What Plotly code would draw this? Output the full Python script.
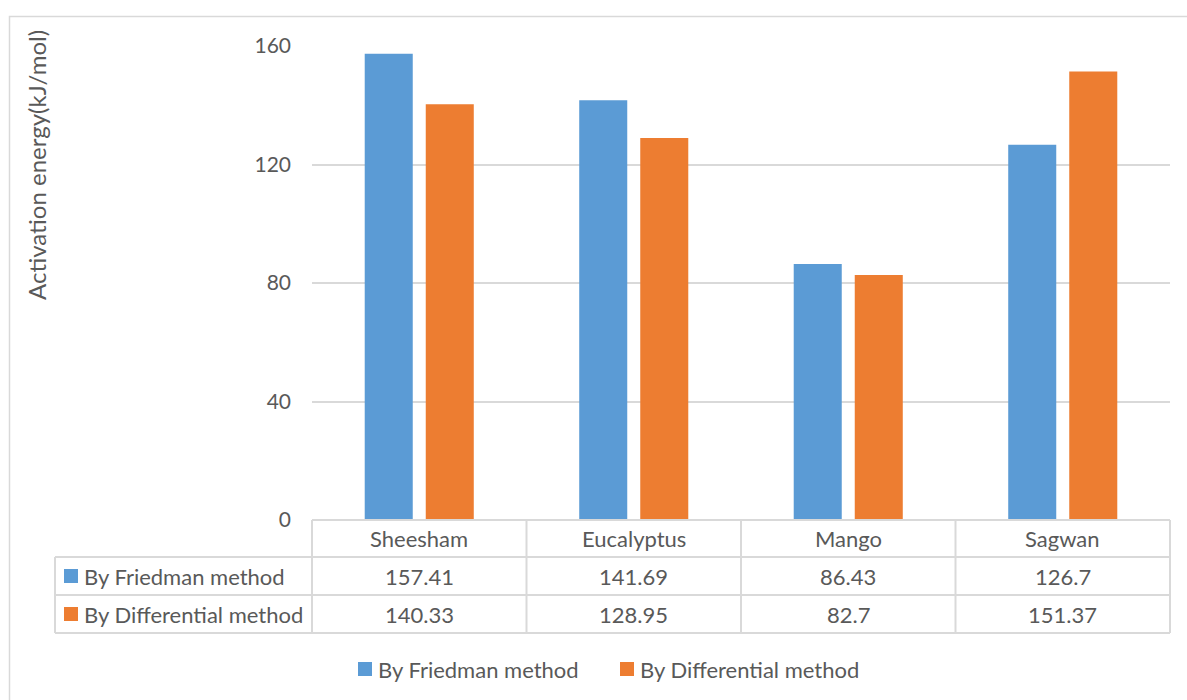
import plotly.graph_objects as go

# Activation energy of four wood species by two kinetic methods
species = ["Sheesham", "Eucalyptus", "Mango", "Sagwan"]
friedman = [157.41, 141.69, 86.43, 126.7]
differential = [140.33, 128.95, 82.7, 151.37]
series_names = ["By Friedman method", "By Differential method"]
y_ticks = [0, 40, 80, 120, 160]
y_title = "Activation energy(kJ/mol)"

BLUE = "#5B9BD5"
ORANGE = "#ED7D31"
TEXT = "#595959"
GRID = "#D9D9D9"
FONT = "Lato"
FS = 22

W, H = 1187, 700
L, R, T, B = 312, 17, 46, 180
PW, PH = W - L - R, H - T - B


def px(xp):
    return (xp - L) / PW


def py(yp):
    return (H - B - yp) / PH


def label(x, y, text, xref="paper", xanchor="center", size=FS, **kw):
    return dict(xref=xref, yref="paper", x=x, y=y, xanchor=xanchor, yanchor="middle",
                text=text, showarrow=False, font=dict(family=FONT, size=size, color=TEXT), **kw)


def square(xl, yc, col, s=14):
    return dict(type="rect", xref="paper", yref="paper",
                x0=px(xl), x1=px(xl + s), y0=py(yc + s / 2), y1=py(yc - s / 2),
                fillcolor=col, line=dict(width=0))


fig = go.Figure()
fig.add_trace(go.Bar(x=species, y=friedman, name=series_names[0],
                     marker=dict(color=BLUE, line=dict(width=0))))
fig.add_trace(go.Bar(x=species, y=differential, name=series_names[1],
                     marker=dict(color=ORANGE, line=dict(width=0))))

shapes = []
annotations = []

# outer chart frame (left and top edges visible)
shapes.append(dict(type="rect", xref="paper", yref="paper",
                   x0=px(9.5), x1=px(W + 60), y0=py(H + 60), y1=py(16.5),
                   line=dict(color=GRID, width=1.5), fillcolor="rgba(0,0,0,0)",
                   layer="below"))

# data table under the axis
n = len(species)
row_edges = [520, 557, 595, 633]
table_left = 55
line_style = dict(color=GRID, width=2)

shapes.append(dict(type="line", xref="paper", yref="paper",
                   x0=0, x1=1, y0=py(row_edges[0]), y1=py(row_edges[0]), line=line_style))
for r in row_edges[1:]:
    shapes.append(dict(type="line", xref="paper", yref="paper",
                       x0=px(table_left), x1=1, y0=py(r), y1=py(r), line=line_style))
for i in range(n + 1):
    shapes.append(dict(type="line", xref="paper", yref="paper",
                       x0=i / n, x1=i / n, y0=py(row_edges[-1]), y1=py(row_edges[0]),
                       line=line_style))
shapes.append(dict(type="line", xref="paper", yref="paper",
                   x0=px(table_left), x1=px(table_left),
                   y0=py(row_edges[-1]), y1=py(row_edges[1]), line=line_style))

# header row: category names
for name in species:
    annotations.append(label(name, py((row_edges[0] + row_edges[1]) / 2), name, xref="x"))

# value rows with series keys
for r, (name_s, vals, col) in enumerate(zip(series_names, [friedman, differential], [BLUE, ORANGE])):
    yc = (row_edges[r + 1] + row_edges[r + 2]) / 2
    shapes.append(square(64, yc, col))
    annotations.append(label(px(82), py(yc), name_s, xanchor="left"))
    for name, v in zip(species, vals):
        annotations.append(label(name, py(yc), str(v), xref="x"))

# legend beneath the table
legend_y = 669
for x0, col, name_s in [(358, BLUE, series_names[0]), (620, ORANGE, series_names[1])]:
    shapes.append(square(x0, legend_y, col))
    annotations.append(label(px(x0 + 18), py(legend_y), name_s, xanchor="left"))

# vertical axis title
annotations.append(label(px(36), py(165), y_title, size=24, textangle=-90))

fig.update_layout(
    width=W, height=H,
    margin=dict(l=L, r=R, t=T, b=B),
    paper_bgcolor="white", plot_bgcolor="white",
    barmode="group", bargap=0.431, bargroupgap=0.213,
    showlegend=False,
    font=dict(family=FONT, color=TEXT, size=FS),
    shapes=shapes, annotations=annotations,
)
fig.update_xaxes(showticklabels=False, showgrid=False, showline=False,
                 ticks="", range=[-0.5, n - 0.5])
fig.update_yaxes(range=[0, 160], tickvals=y_ticks, showgrid=True, gridcolor=GRID,
                 gridwidth=1.5, zeroline=False, showline=False, ticks="",
                 ticklabelstandoff=20,
                 tickfont=dict(family=FONT, size=21, color=TEXT))

fig.write_html("out.html")
